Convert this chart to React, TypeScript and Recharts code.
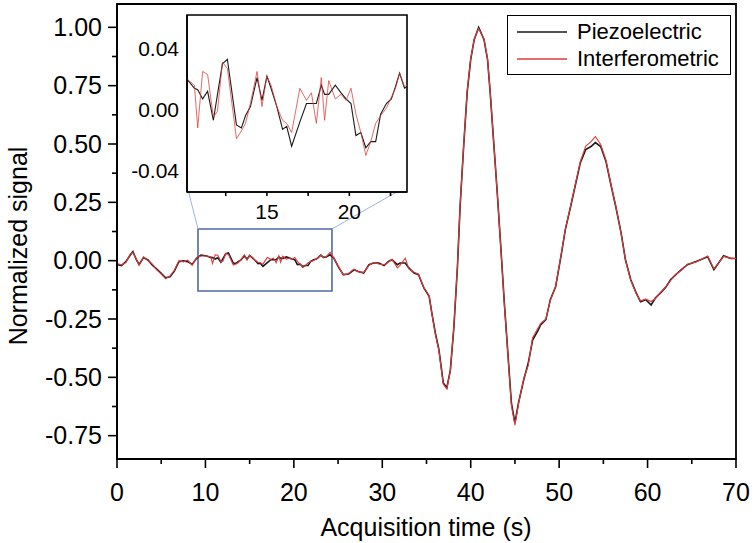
import React from 'react';
import { LineChart, Line, XAxis, YAxis, ReferenceArea, ReferenceLine, Legend, Label } from 'recharts';

// acquisition time (s), shared by both traces
const timeS = [
  0, 0.5, 1.0, 1.5, 1.8, 2.2, 2.5, 3.0, 3.5, 4.0, 4.5, 5.0, 5.5, 6.0, 6.5, 7.0, 7.5, 8.0, 8.5, 9.0, 9.5,
  10.15, 10.6, 10.8, 11.1, 11.4, 11.75, 12.0, 12.3, 12.6, 13.15, 13.45, 13.7, 14.0, 14.4, 14.7, 15.0, 15.25, 15.6, 15.95, 16.2,
  16.5, 17.0, 17.4, 17.7, 18.0, 18.3, 18.5, 18.75, 19.15, 19.5, 19.8, 20.1, 20.4, 20.7, 21.0, 21.3, 21.6, 21.9, 22.25, 22.55,
  22.8, 23.05, 23.35, 23.65, 24.1, 24.5,
  25.1, 25.6, 26.2, 26.8, 27.3, 27.9, 28.5, 29.0, 29.6, 30.2, 30.7, 31.1, 31.7, 32.0, 32.6, 33.0, 33.6, 34.1, 34.7, 35.3,
  35.6, 36.0, 36.4, 36.9, 37.3, 37.7, 38.1, 38.5, 38.8, 39.2, 39.6, 40.0, 40.4, 40.9, 41.5, 41.9, 42.2, 42.6, 43.0, 43.4,
  43.8, 44.2, 44.6, 45.0, 45.4, 46.0, 46.5, 47.0, 47.6, 47.9, 48.5, 49.0, 49.6, 50.2, 50.7, 51.3, 51.9, 52.4, 53.0, 53.6,
  54.1, 54.7, 55.3, 55.8, 56.4, 57.0, 57.5, 58.1, 58.7, 59.2, 59.8, 60.4, 60.9, 61.5, 62.1, 62.6, 63.2, 63.8, 64.5, 65.5,
  66.8, 67.5, 68.6, 69.4, 70.0,
];

const piezo = [
  -0.016, -0.021, -0.004, 0.024, 0.039, 0.003, -0.016, 0.013, 0.003, -0.019, -0.036, -0.054, -0.073, -0.069, -0.044, -0.004, -0.001, -0.004, -0.016, 0.010, 0.024,
  0.020, 0.014, 0.013, 0.007, 0.012, -0.007, 0.010, 0.030, 0.033, -0.010, -0.012, -0.004, 0.002, 0.021, 0.006, 0.022, 0.014, 0.002, -0.013, -0.011,
  -0.024, -0.008, 0.004, 0.004, 0.004, 0.016, 0.010, 0.010, 0.016, 0.011, 0.007, 0.004, -0.017, -0.015, -0.025, -0.021, -0.021, -0.003, 0.004, 0.007,
  0.015, 0.024, 0.014, 0.016, 0.025, 0.012,
  -0.031, -0.060, -0.057, -0.039, -0.046, -0.053, -0.017, -0.010, -0.010, -0.021, -0.003, 0.004, -0.017, -0.010, -0.010, -0.031, -0.053, -0.060, -0.117, -0.153,
  -0.224, -0.310, -0.380, -0.524, -0.545, -0.468, -0.283, -0.026, 0.232, 0.489, 0.721, 0.863, 0.948, 1.000, 0.948, 0.863, 0.721, 0.506, 0.292, 0.060,
  -0.180, -0.395, -0.610, -0.695, -0.610, -0.510, -0.440, -0.340, -0.300, -0.275, -0.253, -0.167, -0.112, 0.017, 0.133, 0.232, 0.335, 0.420, 0.476, 0.489,
  0.506, 0.489, 0.425, 0.335, 0.232, 0.120, 0.004, -0.082, -0.137, -0.176, -0.167, -0.190, -0.159, -0.137, -0.112, -0.082, -0.060, -0.039, -0.017, -0.004,
  0.017, -0.039, 0.021, 0.009, 0.009,
];

const interf = [
  -0.012, -0.018, -0.008, 0.028, 0.035, 0.006, -0.020, 0.016, 0.000, -0.015, -0.040, -0.058, -0.078, -0.065, -0.040, 0.000, -0.005, 0.002, -0.020, 0.014, 0.020,
  0.020, 0.016, -0.012, 0.025, 0.023, -0.005, -0.001, 0.031, 0.027, -0.019, -0.014, -0.009, 0.004, 0.025, 0.002, 0.022, 0.016, 0.002, -0.007, -0.009,
  -0.015, 0.014, 0.006, 0.011, -0.009, 0.021, -0.007, 0.019, 0.007, 0.010, 0.006, 0.014, -0.003, -0.015, -0.030, -0.021, -0.009, -0.004, 0.001, 0.008,
  0.014, 0.024, 0.015, 0.017, 0.035, 0.012,
  -0.028, -0.062, -0.055, -0.036, -0.048, -0.050, -0.020, -0.008, -0.014, -0.018, -0.006, 0.006, -0.031, -0.020, 0.011, -0.035, -0.050, -0.058, -0.115, -0.150,
  -0.225, -0.315, -0.385, -0.530, -0.550, -0.470, -0.280, -0.022, 0.235, 0.492, 0.725, 0.866, 0.950, 0.995, 0.950, 0.865, 0.725, 0.508, 0.290, 0.058,
  -0.185, -0.400, -0.620, -0.705, -0.615, -0.505, -0.450, -0.330, -0.290, -0.270, -0.250, -0.170, -0.110, 0.020, 0.135, 0.235, 0.340, 0.425, 0.490, 0.510,
  0.532, 0.498, 0.430, 0.338, 0.235, 0.118, 0.002, -0.085, -0.140, -0.172, -0.165, -0.175, -0.162, -0.135, -0.110, -0.085, -0.058, -0.042, -0.015, -0.006,
  0.020, -0.035, 0.018, 0.010, 0.010,
];

const seriesNames = ['Piezoelectric', 'Interferometric'];
const xMajor = [0, 10, 20, 30, 40, 50, 60, 70];
const xMinor = [5, 15, 25, 35, 45, 55, 65];
const yMajor = [-0.75, -0.5, -0.25, 0, 0.25, 0.5, 0.75, 1.0];
const yMinor = [-0.625, -0.375, -0.125, 0.125, 0.375, 0.625, 0.875];
const insetXMajor = [15, 20];
const insetXMinor = [12.5, 17.5, 22.5];
const insetYTicks = [-0.04, 0, 0.04];

const data = timeS.map((t, i) => ({ t, piezo: piezo[i], interf: interf[i] }));

const FONT = '"Liberation Sans", Arial, sans-serif';

function bottomTick(majors: number[], majorLen: number, minorLen: number, gap: number, size: number, fmt: (v: number) => string) {
  return (p: any) => {
    const v = p.payload.value;
    const major = majors.includes(v);
    return (
      <g>
        <line x1={p.x} y1={p.y} x2={p.x} y2={p.y + (major ? majorLen : minorLen)} stroke="#000" strokeWidth={1.6} />
        {major && (
          <text x={p.x} y={p.y + gap} textAnchor="middle" fontSize={size} fontFamily={FONT} fill="#000">
            {fmt(v)}
          </text>
        )}
      </g>
    );
  };
}

function leftTick(majors: number[], majorLen: number, minorLen: number, gap: number, size: number, fmt: (v: number) => string) {
  return (p: any) => {
    const v = p.payload.value;
    const major = majors.some((m) => Math.abs(m - v) < 1e-9);
    return (
      <g>
        {majorLen > 0 && (
          <line x1={p.x} y1={p.y} x2={p.x - (major ? majorLen : minorLen)} y2={p.y} stroke="#000" strokeWidth={1.6} />
        )}
        {major && (
          <text x={p.x - gap} y={p.y} dy="0.35em" textAnchor="end" fontSize={size} fontFamily={FONT} fill="#000">
            {fmt(v)}
          </text>
        )}
      </g>
    );
  };
}

const renderLegend = (props: any) => {
  const items = [...(props.payload || [])].sort(
    (a: any, b: any) => seriesNames.indexOf(a.value) - seriesNames.indexOf(b.value)
  );
  return (
    <div
      style={{
        border: '1.5px solid #000',
        background: '#fff',
        width: 224,
        height: 60,
        boxSizing: 'border-box',
        paddingTop: 2,
        fontFamily: FONT,
        fontSize: 22,
      }}
    >
      {items.map((entry: any) => (
        <div key={entry.value} style={{ display: 'flex', alignItems: 'center', height: 27 }}>
          <svg width={60} height={4} style={{ marginLeft: 9 }}>
            <line x1={0} y1={2} x2={50} y2={2} stroke={entry.color} strokeWidth={1.6} />
          </svg>
          <span style={{ color: '#000', lineHeight: '27px' }}>{entry.value}</span>
        </div>
      ))}
    </div>
  );
};

export default function App() {
  return (
    <div style={{ position: 'absolute', left: 0, top: 0, width: 754, height: 543, background: '#fff' }}>
      <LineChart width={754} height={543} data={data} margin={{ top: 4, right: 18, bottom: 0, left: 0 }}>
        <XAxis
          dataKey="t"
          type="number"
          domain={[0, 70]}
          ticks={[...xMajor, ...xMinor]}
          interval={0}
          height={84}
          tickSize={0}
          tickMargin={0}
          tickLine={false}
          axisLine={{ stroke: '#000', strokeWidth: 1.8 }}
          tick={bottomTick(xMajor, 9, 5, 42, 25, (v) => String(v))}
          label={
            <Label
              content={() => (
                <text x={426} y={536} textAnchor="middle" fontSize={25} fontFamily={FONT} fill="#000">
                  Acquisition time (s)
                </text>
              )}
            />
          }
        />
        <YAxis
          type="number"
          domain={[-0.85, 1.1]}
          ticks={[...yMajor, ...yMinor]}
          interval={0}
          width={117}
          tickSize={0}
          tickMargin={0}
          tickLine={false}
          axisLine={{ stroke: '#000', strokeWidth: 1.8 }}
          tick={leftTick(yMajor, 9, 5, 15, 25, (v) => v.toFixed(2))}
          label={
            <Label
              content={() => (
                <text transform="translate(27,246) rotate(-90)" textAnchor="middle" fontSize={25} fontFamily={FONT} fill="#000">
                  Normalized signal
                </text>
              )}
            />
          }
        />
        <ReferenceArea x1={0} x2={70} y1={-0.85} y2={1.1} stroke="#000" strokeWidth={1.8} fill="none" fillOpacity={0} ifOverflow="visible" />
        <ReferenceLine segment={[{ x: 7.92, y: 0.32 }, { x: 9.16, y: 0.136 }]} stroke="#9fb4e2" strokeWidth={1} ifOverflow="visible" />
        <ReferenceLine segment={[{ x: 24.31, y: 0.136 }, { x: 32.8, y: 0.32 }]} stroke="#9fb4e2" strokeWidth={1} ifOverflow="visible" />
        <ReferenceArea x1={9.16} x2={24.31} y1={-0.13} y2={0.136} stroke="#4d6aa6" strokeWidth={1.6} fill="none" fillOpacity={0} ifOverflow="visible" />
        <Line name={seriesNames[0]} dataKey="piezo" stroke="#1a1a1a" strokeWidth={1.6} dot={false} isAnimationActive={false} />
        <Line name={seriesNames[1]} dataKey="interf" stroke="#e0393a" strokeWidth={1.1} dot={false} isAnimationActive={false} />
        <Legend
          layout="vertical"
          align="center"
          verticalAlign="middle"
          content={renderLegend}
          wrapperStyle={{ position: 'absolute', left: 507, top: 15, width: 224, height: 60 }}
        />
      </LineChart>

      {/* inset: zoom on the 10-24 s baseline */}
      <div style={{ position: 'absolute', left: 130, top: 8 }}>
        <LineChart width={290} height={215} data={data} margin={{ top: 7, right: 13, bottom: 0, left: 0 }}>
          <ReferenceArea x1={10.15} x2={23.5} y1={-0.054} y2={0.062} stroke="none" fill="#fff" fillOpacity={1} ifOverflow="visible" />
          <XAxis
            dataKey="t"
            type="number"
            domain={[10.15, 23.5]}
            allowDataOverflow
            ticks={[...insetXMajor, ...insetXMinor]}
            interval={0}
            height={31}
            tickSize={0}
            tickMargin={0}
            tickLine={false}
            axisLine={{ stroke: '#000', strokeWidth: 1.6 }}
            tick={bottomTick(insetXMajor, 4, 4, 27, 21, (v) => String(v))}
          />
          <YAxis
            type="number"
            domain={[-0.054, 0.062]}
            allowDataOverflow
            ticks={insetYTicks}
            interval={0}
            width={57}
            tickSize={0}
            tickMargin={0}
            tickLine={false}
            axisLine={{ stroke: '#000', strokeWidth: 1.6 }}
            tick={leftTick(insetYTicks, 0, 0, 8, 21, (v) => v.toFixed(2))}
          />
          <ReferenceArea x1={10.15} x2={23.5} y1={-0.054} y2={0.062} stroke="#000" strokeWidth={1.6} fill="none" fillOpacity={0} ifOverflow="visible" />
          <Line dataKey="piezo" stroke="#1a1a1a" strokeWidth={1.1} dot={false} isAnimationActive={false} />
          <Line dataKey="interf" stroke="#e0393a" strokeWidth={0.9} strokeOpacity={0.85} dot={false} isAnimationActive={false} />
        </LineChart>
      </div>
    </div>
  );
}
